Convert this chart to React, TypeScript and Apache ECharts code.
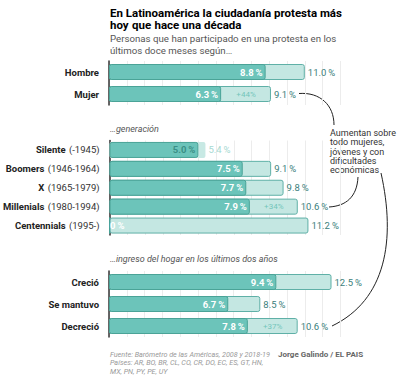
import React, { useEffect, useRef } from "react";
import * as echarts from "echarts";

// ---- data ----
const sexCats = ["Hombre", "Mujer"];
const sexOld = [8.8, 6.3];
const sexNew = [11.0, 9.1];
const sexChange = ["", "+44%"];

const genNames = ["Silente", "Boomers", "X", "Millenials", "Centennials"];
const genYears = ["(-1945)", "(1946-1964)", "(1965-1979)", "(1980-1994)", "(1995-)"];
const genOld = [5.0, 7.5, 7.7, 7.9, 0];
const genNew = [5.4, 9.1, 9.8, 10.6, 11.2];
const genChange = ["", "", "", "+34%", ""];

const incCats = ["Creció", "Se mantuvo", "Decreció"];
const incOld = [9.4, 6.7, 7.8];
const incNew = [12.5, 8.5, 10.6];
const incChange = ["", "", "+37%"];

const FONT = "Roboto";
const DARK = "#6cc4ba";
const DARK_BORDER = "#4aa397";
const LIGHT = "#c4e7e2";
const LIGHT_BORDER = "#5fb0a7";
const VAL_COLOR = "#3b807b";

const fmt = (v: number) => v.toFixed(1) + "\u2009%";

export default function App() {
  const ref = useRef<HTMLDivElement>(null);
  useEffect(() => {
    if (!ref.current) return;
    const chart = echarts.init(ref.current, null, { renderer: "svg" });

    const groups = [
      { cats: sexCats, years: sexCats.map(() => ""), old: sexOld, nw: sexNew, ch: sexChange, top: 61, height: 44 },
      { cats: genNames, years: genYears, old: genOld, nw: genNew, ch: genChange, top: 140.5, height: 94.5 },
      { cats: incCats, years: incCats.map(() => ""), old: incOld, nw: incNew, ch: incChange, top: 271, height: 66 },
    ];

    const grid: any[] = [];
    const xAxis: any[] = [];
    const yAxis: any[] = [];
    const series: any[] = [];

    groups.forEach((g, i) => {
      grid.push({ left: 109, top: g.top, width: 231.4, height: g.height });
      xAxis.push({
        type: "value",
        gridIndex: i,
        min: 0,
        max: 13,
        interval: 1,
        axisLabel: { show: false },
        axisLine: { show: false },
        axisTick: { show: false },
        splitLine: { show: true, lineStyle: { color: "#ececec", width: 1 } },
      });
      yAxis.push({
        type: "category",
        gridIndex: i,
        inverse: true,
        data: g.cats,
        axisLine: { show: true, lineStyle: { color: "#333", width: 1.5 } },
        axisTick: { show: false },
        axisLabel: {
          margin: 10,
          formatter: (v: string, idx: number) =>
            g.years[idx] ? `{b|${v}} {n|${g.years[idx]}}` : `{b|${v}}`,
          rich: {
            b: { fontFamily: FONT, fontWeight: "bold", fontSize: 9.5, color: "#222" },
            n: { fontFamily: FONT, fontSize: 9.5, color: "#333" },
          },
        },
      });
      const isSilente = (idx: number) => i === 1 && idx === 0;
      series.push({
        type: "bar",
        xAxisIndex: i,
        yAxisIndex: i,
        barWidth: 16,
        barGap: "-100%",
        z: 2,
        data: g.nw.map((v, idx) =>
          isSilente(idx)
            ? { value: v, itemStyle: { borderWidth: 0, color: "#c8e9e4" }, label: { color: "#a6d9d2" } }
            : v
        ),
        itemStyle: { color: LIGHT, borderColor: LIGHT_BORDER, borderWidth: 1, borderRadius: 2 },
        label: {
          show: true,
          position: "right",
          distance: 3,
          formatter: (p: any) => fmt(p.value),
          fontFamily: FONT,
          fontSize: 9.5,
          color: VAL_COLOR,
        },
      });
      series.push({
        type: "bar",
        xAxisIndex: i,
        yAxisIndex: i,
        barWidth: 16,
        barGap: "-100%",
        z: 3,
        data: g.old.map((v, idx) => {
          if (isSilente(idx)) return { value: v, label: { color: "#3b8f86" } };
          if (v === 0)
            return { value: v, label: { position: "insideLeft", distance: 1, formatter: "0\u2009%" } };
          return v;
        }),
        itemStyle: { color: DARK, borderColor: DARK_BORDER, borderWidth: 1, borderRadius: 2 },
        label: {
          show: true,
          position: "insideRight",
          distance: 3,
          formatter: (p: any) => fmt(p.value),
          fontFamily: FONT,
          fontSize: 9.5,
          fontWeight: "bold",
          color: "#fff",
        },
      });
      series.push({
        type: "scatter",
        xAxisIndex: i,
        yAxisIndex: i,
        symbolSize: 0,
        z: 4,
        silent: true,
        data: g.ch
          .map((c, idx) => (c ? { value: [(g.old[idx] + g.nw[idx]) / 2, g.cats[idx]], text: c } : null))
          .filter((d) => d),
        label: {
          show: true,
          position: "inside",
          formatter: (p: any) => p.data.text,
          fontFamily: FONT,
          fontSize: 8,
          color: "#5cbcb0",
        },
      });
    });

    const txt = (x: number, y: number, text: string, style: any) => ({
      type: "text",
      x,
      y,
      style: { text, fontFamily: FONT, verticalAlign: "middle", ...style },
    });

    const curve = (x1: number, y1: number, cpx1: number, cpy1: number, cpx2: number, cpy2: number, x2: number, y2: number) => ({
      type: "bezierCurve",
      shape: { x1, y1, cpx1, cpy1, cpx2, cpy2, x2, y2 },
      style: { stroke: "#222", lineWidth: 1, fill: null },
    });

    const titleRich = {
      a: { fontFamily: FONT, fontWeight: "bold", fontSize: 11.5, color: "#111" },
      t: { fontFamily: FONT, fontWeight: "bold", fontSize: 11.5, color: "#2fa89a" },
    };

    const graphic: any[] = [
      {
        type: "text",
        x: 110,
        y: 12.5,
        style: { text: "{a|En Latinoamérica la ciudadanía protesta más}", rich: titleRich, verticalAlign: "middle" },
      },
      {
        type: "text",
        x: 110,
        y: 25,
        style: { text: "{t|hoy} {a|que} {t|hace una década}", rich: titleRich, verticalAlign: "middle" },
      },
      {
        type: "text",
        x: 110,
        y: 33,
        style: {
          text: "Personas que han participado en una protesta en los\núltimos doce meses según…",
          fontFamily: FONT,
          fontSize: 9.7,
          lineHeight: 11.5,
          fill: "#555",
        },
      },
      txt(110, 129, "…generación", { fontSize: 9, fontStyle: "italic", fill: "#555" }),
      txt(110, 259, "…ingreso del hogar en los últimos dos años", { fontSize: 9, fontStyle: "italic", fill: "#555" }),
      {
        type: "text",
        x: 330,
        y: 128.5,
        style: {
          text: "Aumentan sobre\ntodo mujeres,\njóvenes y con\ndificultades\neconómicas",
          fontFamily: FONT,
          fontSize: 9,
          lineHeight: 9.2,
          fill: "#333",
        },
      },
      curve(299, 93.5, 320, 92, 334, 105, 334, 125),
      curve(358, 177, 357, 197, 346, 206, 329, 207),
      curve(381, 173, 396, 240, 386, 300, 332, 326),
      {
        type: "text",
        x: 110,
        y: 350,
        style: {
          text: "Fuente: Barómetro de las Américas, 2008 y 2018-19\nPaíses: AR, BO, BR, CL, CO, CR, DO, EC, ES, GT, HN,\nMX, PN, PY, PE, UY",
          fontFamily: FONT,
          fontSize: 7.2,
          fontStyle: "italic",
          lineHeight: 8.4,
          fill: "#999",
        },
      },
      txt(278, 354.5, "Jorge Galindo / EL PAIS", { fontSize: 8, fontWeight: "bold", fill: "#666" }),
    ];

    chart.setOption({
      animation: false,
      backgroundColor: "#fff",
      grid,
      xAxis,
      yAxis,
      series,
      graphic,
    });
    return () => chart.dispose();
  }, []);

  return (
    <div
      ref={ref}
      style={{ position: "fixed", left: 0, top: 0, width: 414, height: 381, background: "#fff" }}
    />
  );
}
